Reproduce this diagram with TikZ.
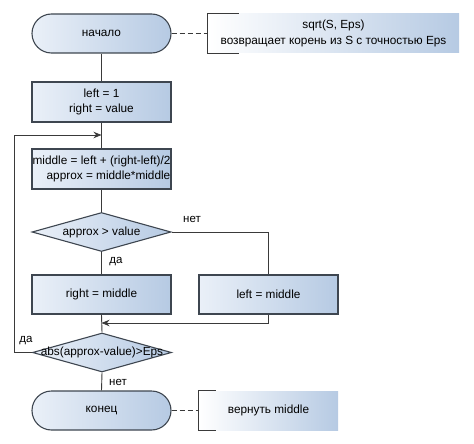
\documentclass[tikz,border=0pt]{standalone}
\usepackage{fontspec}
\setmainfont{Liberation Sans}
\usetikzlibrary{shapes.geometric,arrows.meta,calc}
\definecolor{bord}{HTML}{3E4650}
\definecolor{lineg}{HTML}{3A3A3A}
\definecolor{lightc}{HTML}{EAF0F8}
\definecolor{darkc}{HTML}{B6CAE3}
\tikzset{
  base/.style={draw=bord, line width=1.1pt, left color=lightc, right color=darkc, inner sep=0pt,
    font=\fontsize{11.8}{15.5}\selectfont, align=center},
  procbox/.style={base, rectangle, minimum width=139pt, minimum height=40pt},
  termbox/.style={base, rectangle, rounded corners=19.5pt, minimum width=139pt, minimum height=39pt},
  decbox/.style={base, diamond, minimum width=139pt, minimum height=39pt, aspect=3.5},
  notebox/.style={rectangle, left color=white, right color=darkc, inner sep=0pt,
    font=\fontsize{11.8}{15.5}\selectfont, align=center},
  conn/.style={draw=lineg, line width=0.9pt},
  arr/.style={conn, -{Stealth[length=8pt,width=6.5pt]}},
  lbl/.style={font=\fontsize{11.5}{12}\selectfont, inner sep=0pt}
}
\begin{document}
\begin{tikzpicture}[x=1pt,y=-1pt]
\useasboundingbox (0,0) rectangle (474,444);
\node[termbox] (start) at (101.5,33.5) {начало};
\node[notebox, minimum width=251pt, minimum height=39pt] (note1) at (333.5,33.5) {sqrt(S, Eps)\\возвращает корень из S с точностью Eps};
\draw[conn] ($(note1.north west)+(31,0)$) -- (note1.north west) -- (note1.south west) -- ($(note1.south west)+(31,0)$);
\node[procbox] (p1) at (101.5,102) {left = 1\\right = value};
\node[procbox] (p2) at (101.5,169) {\makebox[0pt][c]{\begin{tabular}{@{}c@{}}middle = left + (right-left)/2\\\hspace*{14pt}approx = middle*middle\end{tabular}}};
\node[decbox] (d1) at (101.5,232) {\makebox[0pt][c]{approx > value}};
\node[procbox, minimum height=39pt] (p3) at (101.5,294.5) {right = middle};
\node[procbox, minimum height=39pt] (p4) at (268.5,294.5) {left = middle};
\node[decbox] (d2) at (102,352.5) {\makebox[0pt][c]{abs(approx-value)>Eps}};
\node[termbox] (end) at (101.5,410.5) {конец};
\node[notebox, minimum width=139pt, minimum height=39pt] (note2) at (268.5,410.5) {вернуть middle};
\draw[conn] ($(note2.north west)+(17,0)$) -- (note2.north west) -- (note2.south west) -- ($(note2.south west)+(17,0)$);
\coordinate (j1) at (101.5,135);
\coordinate (j2) at (101.5,323);
\coordinate (lft) at (14,352.5);
\draw[conn] (start) -- (p1);
\draw[conn] (p1) -- (p2);
\draw[conn] (p2) -- (d1);
\draw[conn] (d1.south) -- (p3.north);
\draw[conn] (d1.east) -| (p4.north);
\draw[arr] (p4.south) |- (j2);
\draw[conn] (p3.south) -- (d2.north);
\draw[arr] (d2.west) -- (lft) |- (j1);
\draw[conn] (d2.south) -- (end.north);
\draw[conn, dashed, dash pattern=on 5pt off 3pt] (start.east) -- (note1.west);
\draw[conn, dashed, dash pattern=on 5pt off 3pt] (end.east) -- (note2.west);
\node[lbl] (l1) at (192,219) {нет};
\node[lbl] (l2) at (116,262) {да};
\node[lbl] (l3) at (26,341) {да};
\node[lbl] (l4) at (118,382) {нет};
\end{tikzpicture}
\end{document}
